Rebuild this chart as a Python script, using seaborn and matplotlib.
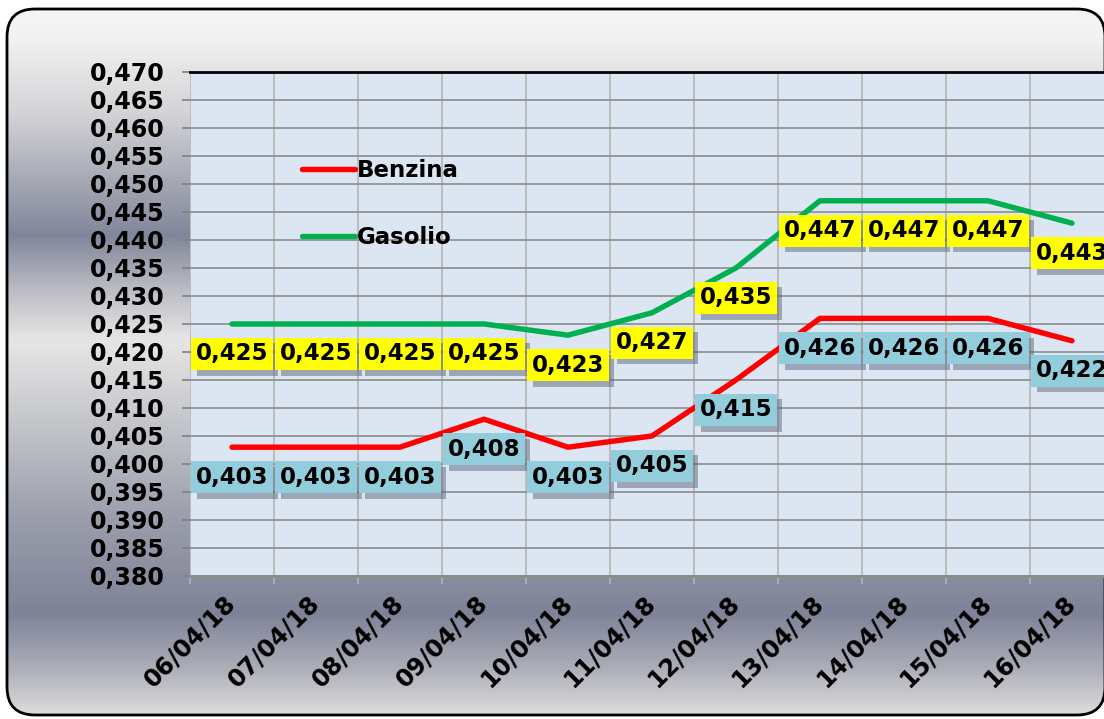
import numpy as np
import pandas as pd
import matplotlib
matplotlib.use("Agg")
import matplotlib.pyplot as plt
import matplotlib.patheffects as pe
from matplotlib.colors import LinearSegmentedColormap
from matplotlib.patches import FancyBboxPatch
from matplotlib.lines import Line2D
from matplotlib.ticker import FixedLocator, FuncFormatter
import seaborn as sns

# dati
date = ["06/04/18", "07/04/18", "08/04/18", "09/04/18", "10/04/18", "11/04/18",
        "12/04/18", "13/04/18", "14/04/18", "15/04/18", "16/04/18"]
benzina = [0.403, 0.403, 0.403, 0.408, 0.403, 0.405, 0.415, 0.426, 0.426, 0.426, 0.422]
gasolio = [0.425, 0.425, 0.425, 0.425, 0.423, 0.427, 0.435, 0.447, 0.447, 0.447, 0.443]

df = pd.DataFrame({
    "data": date * 2,
    "prezzo": benzina + gasolio,
    "carburante": ["Benzina"] * len(date) + ["Gasolio"] * len(date),
})
colori = {"Benzina": "#ff0000", "Gasolio": "#00b050"}
box = {"Benzina": "#92cddc", "Gasolio": "#ffff00"}

def virgola(v, pos=None):
    return f"{v:.3f}".replace(".", ",")

fig = plt.figure(figsize=(11.04, 7.19), dpi=100)

# sfondo sfumato con bordo arrotondato
bg = fig.add_axes([0, 0, 1, 1])
bg.set_xlim(0, 1104)
bg.set_ylim(719, 0)
bg.axis("off")
stops = [(0, "#f8f8f8"), (40, "#f0f0f0"), (110, "#d4d4d8"), (180, "#a6a9b4"),
         (235, "#80869a"), (290, "#bcbdc4"), (340, "#e6e6e6"), (420, "#c6c7cc"),
         (520, "#9a9dab"), (615, "#7e8397"), (670, "#acaeb8"), (719, "#e0e0e0")]
cmap = LinearSegmentedColormap.from_list("cromo", [(p / 719, c) for p, c in stops])
cornice = FancyBboxPatch((7, 9), 1098, 706, boxstyle="round,pad=0,rounding_size=28",
                         fc="none", ec="black", lw=2, zorder=3)
bg.add_patch(cornice)
im = bg.imshow(np.linspace(0, 1, 719).reshape(-1, 1), cmap=cmap, aspect="auto",
               extent=(0, 1104, 719, 0), zorder=1)
im.set_clip_path(cornice)

ax = fig.add_axes([0.1721, 0.1989, 0.8369, 0.701])
ax.set_facecolor("#dce6f2")

sns.lineplot(data=df, x="data", y="prezzo", hue="carburante", palette=colori,
             linewidth=3.9, sort=False, legend=False, ax=ax, zorder=3)
for l in ax.lines:
    l.set_solid_capstyle("round")

ax.set_xlim(-0.5, 10.5)
ax.set_ylim(0.380, 0.470)
ax.set_yticks(np.arange(0.380, 0.4701, 0.005))
ax.yaxis.set_major_formatter(FuncFormatter(virgola))
ax.xaxis.set_minor_locator(FixedLocator(np.arange(-0.5, 11, 1)))
ax.set_xlabel("")
ax.set_ylabel("")

ax.grid(axis="y", which="major", color="#8c8c8c", lw=1.2)
ax.grid(axis="x", which="minor", color="#b4b4b4", lw=1.2)
ax.set_axisbelow(True)
for s in ["left", "right"]:
    ax.spines[s].set_visible(False)
ax.spines["top"].set_color("black")
ax.spines["top"].set_linewidth(2)
ax.spines["bottom"].set_color("#8c8c8c")
ax.spines["bottom"].set_linewidth(2)

ax.tick_params(axis="y", length=6, width=1.2, color="#808080", pad=12,
               labelsize=17)
ax.tick_params(axis="x", which="major", length=0, pad=17, labelsize=17.5)
ax.tick_params(axis="x", which="minor", length=6, width=1.2, color="#b4b4b4")
for t in ax.get_yticklabels():
    t.set_fontweight("bold")
for t in ax.get_xticklabels():
    t.set_fontweight("bold")
    t.set_rotation(45)
    t.set_ha("right")
    t.set_va("center")
    t.set_rotation_mode("anchor")

# etichette dei valori
for nome, valori in [("Gasolio", gasolio), ("Benzina", benzina)]:
    for d, v in zip(date, valori):
        a = ax.annotate(virgola(v), xy=(d, v), xytext=(0, -30),
                        textcoords="offset pixels", ha="center", va="center",
                        fontsize=16.5, fontweight="bold", zorder=5,
                        bbox=dict(boxstyle="square,pad=0.2", fc=box[nome], ec="none"))
        a.get_bbox_patch().set_path_effects([
            pe.SimplePatchShadow(offset=(4, -4), shadow_rgbFace="#505a6e", alpha=0.45),
            pe.Normal()])

maniglie = [Line2D([0], [0], color=colori[k], lw=3.9, solid_capstyle="round")
            for k in ["Benzina", "Gasolio"]]
ax.legend(maniglie, ["Benzina", "Gasolio"], loc="upper left",
          bbox_to_anchor=(0.121, 0.828), frameon=False,
          prop=dict(weight="bold", size=16.5), handlelength=2.3,
          handletextpad=0.12, labelspacing=1.95, borderpad=0, borderaxespad=0)

fig.savefig("out.png", dpi=100)
